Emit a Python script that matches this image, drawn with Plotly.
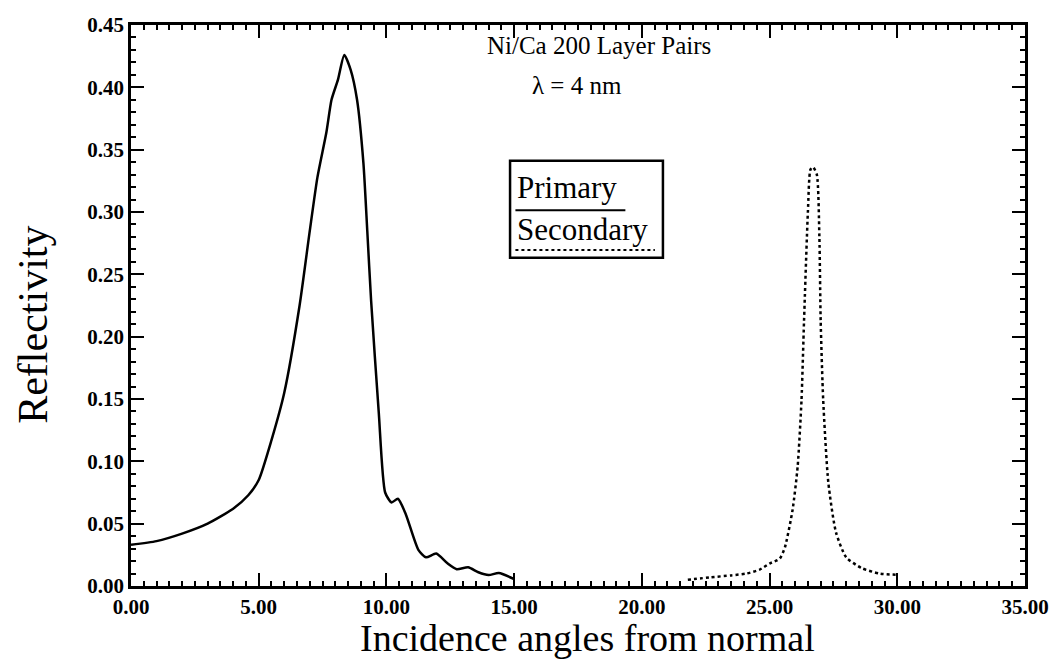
import plotly.graph_objects as go

# Primary curve (solid)
primary_x = [0.0, 1.0, 2.0, 3.0, 4.0, 4.6, 5.0, 5.5, 6.0, 6.6, 7.0, 7.3, 7.65, 7.85, 8.1, 8.35,
             8.6, 8.85, 9.1, 9.25, 9.4, 9.7, 9.95, 10.2, 10.45, 10.75, 11.25, 11.55, 11.95,
             12.4, 12.75, 13.2, 13.6, 14.0, 14.4, 15.0]
primary_y = [0.033, 0.036, 0.042, 0.050, 0.062, 0.073, 0.085, 0.117, 0.155, 0.225, 0.285, 0.328,
             0.364, 0.390, 0.406, 0.426, 0.414, 0.390, 0.339, 0.285, 0.229, 0.139, 0.075, 0.067,
             0.070, 0.058, 0.029, 0.023, 0.026, 0.018, 0.0135, 0.015, 0.011, 0.0088, 0.0104, 0.0056]

# Secondary curve (dotted)
secondary_x = [21.8, 22.7, 23.5, 24.1, 24.6, 25.0, 25.4, 25.6, 25.9, 26.1, 26.25, 26.35, 26.5,
               26.6, 26.7, 26.85, 26.95, 27.0, 27.1, 27.3, 27.6, 28.0, 28.6, 29.3, 30.0]
secondary_y = [0.005, 0.007, 0.0085, 0.010, 0.013, 0.018, 0.022, 0.031, 0.061, 0.096, 0.149,
               0.213, 0.300, 0.334, 0.336, 0.330, 0.280, 0.213, 0.149, 0.083, 0.043, 0.023,
               0.0144, 0.010, 0.009]

x_ticks = [0, 5, 10, 15, 20, 25, 30, 35]
x_tick_labels = ["0.00", "5.00", "10.00", "15.00", "20.00", "25.00", "30.00", "35.00"]
y_ticks = [0.0, 0.05, 0.10, 0.15, 0.20, 0.25, 0.30, 0.35, 0.40, 0.45]
y_tick_labels = ["0.00", "0.05", "0.10", "0.15", "0.20", "0.25", "0.30", "0.35", "0.40", "0.45"]

title_lines = ["Ni/Ca 200 Layer Pairs", "λ = 4 nm"]
x_title = "Incidence angles from normal"
y_title = "Reflectivity"
legend_names = ["Primary", "Secondary"]

SERIF = "Liberation Serif, Times New Roman, serif"

fig = go.Figure()
fig.add_trace(go.Scatter(x=primary_x, y=primary_y, mode="lines", name=legend_names[0],
                         line=dict(color="black", width=2.5, shape="spline", smoothing=0.6)))
fig.add_trace(go.Scatter(x=secondary_x, y=secondary_y, mode="lines", name=legend_names[1],
                         line=dict(color="black", width=2.5, dash="dot", shape="spline", smoothing=0.6)))

axis_common = dict(showline=True, linecolor="black", linewidth=2.5, mirror="allticks",
                   ticks="inside", tickcolor="black", tickwidth=2, ticklen=13,
                   showgrid=False, zeroline=False, ticklabeloverflow="allow",
                   tickfont=dict(family=SERIF, size=21, color="black", weight="bold"))

fig.update_xaxes(range=[0, 35], tickvals=x_ticks, ticktext=x_tick_labels,
                 minor=dict(dtick=0.5, ticks="inside", ticklen=5, tickcolor="black", tickwidth=1.5),
                 **axis_common)
fig.update_yaxes(range=[0, 0.45], tickvals=y_ticks, ticktext=y_tick_labels,
                 minor=dict(dtick=0.01, ticks="inside", ticklen=5, tickcolor="black", tickwidth=1.5),
                 **axis_common)

# Axis titles
fig.add_annotation(text=x_title, x=0.511, y=-0.093, xref="paper", yref="paper",
                   xanchor="center", yanchor="middle", showarrow=False,
                   font=dict(family=SERIF, size=38, color="black"))
fig.add_annotation(text=y_title, x=-0.110, y=0.465, xref="paper", yref="paper", textangle=-90,
                   xanchor="center", yanchor="middle", showarrow=False,
                   font=dict(family=SERIF, size=42, color="black"))

# Title annotations
fig.add_annotation(text=title_lines[0], x=0.524, y=0.964, xref="paper", yref="paper",
                   xanchor="center", yanchor="middle", showarrow=False,
                   font=dict(family=SERIF, size=25, color="black"))
fig.add_annotation(text=title_lines[1], x=0.499, y=0.893, xref="paper", yref="paper",
                   xanchor="center", yanchor="middle", showarrow=False,
                   font=dict(family=SERIF, size=25, color="black"))

# Custom legend box
lx0, lx1, ly0, ly1 = 0.424, 0.595, 0.585, 0.758
fig.add_shape(type="rect", xref="paper", yref="paper", x0=lx0, x1=lx1, y0=ly0, y1=ly1,
              line=dict(color="black", width=2.5), fillcolor="white", layer="above")
fig.add_annotation(text=legend_names[0], x=0.429, y=0.711, xref="paper", yref="paper",
                   xanchor="left", yanchor="middle", showarrow=False,
                   font=dict(family=SERIF, size=31, color="black"))
fig.add_shape(type="line", xref="paper", yref="paper", x0=0.430, x1=0.553,
              y0=0.670, y1=0.670, line=dict(color="black", width=2))
fig.add_annotation(text=legend_names[1], x=0.429, y=0.635, xref="paper", yref="paper",
                   xanchor="left", yanchor="middle", showarrow=False,
                   font=dict(family=SERIF, size=31, color="black"))
fig.add_shape(type="line", xref="paper", yref="paper", x0=0.430, x1=0.586,
              y0=0.599, y1=0.599, line=dict(color="black", width=2, dash="dot"))

fig.update_layout(width=1041, height=652, showlegend=False,
                  plot_bgcolor="white", paper_bgcolor="white",
                  margin=dict(l=123, r=24, t=17, b=74, autoexpand=False))

fig.write_html("out.html")
